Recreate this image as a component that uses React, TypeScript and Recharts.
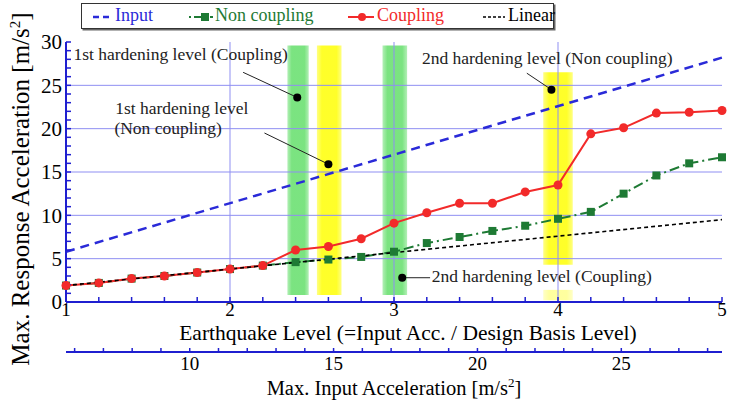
import React from 'react'
import {
  ComposedChart, Line, XAxis, YAxis, ReferenceArea, ReferenceLine, ReferenceDot,
} from 'recharts'

// earthquake level (x) and max response acceleration [m/s2]
const levels = [1, 1.2, 1.4, 1.6, 1.8, 2, 2.2, 2.4, 2.6, 2.8, 3, 3.2, 3.4, 3.6, 3.8, 4, 4.2, 4.4, 4.6, 4.8, 5]
const coupling = [1.9, 2.2, 2.7, 3.0, 3.4, 3.8, 4.2, 6.0, 6.4, 7.3, 9.1, 10.3, 11.4, 11.4, 12.7, 13.5, 19.4, 20.1, 21.8, 21.9, 22.1]
const nonCoupling = [1.9, 2.2, 2.7, 3.0, 3.4, 3.8, 4.2, 4.6, 4.9, 5.2, 5.8, 6.8, 7.5, 8.2, 8.8, 9.6, 10.4, 12.5, 14.6, 16.0, 16.7]
// input line is drawn against the input acceleration axis
const inputAccX = [5.7, 28.5]
const inputAcc = [5.8, 28.2]
const linearLevels = [1, 5]
const linearAcc = [1.9, 9.5]

const levelLabels = [1, 2, 3, 4, 5]
const responseLabels = [0, 5, 10, 15, 20, 25, 30]
const inputAccLabels = [10, 15, 20, 25]
const inputAccRange = [5.7, 28.5]

// hardening bands (green = coupling, yellow = non coupling)
const bandFrom = [2.35, 2.53, 2.93, 3.91]
const bandTo = [2.48, 2.68, 3.08, 4.09]
const bandLow = [0.8, 0.8, 0.8, 4.3]
const bandHigh = [29.6, 29.6, 29.6, 26.5]
const bandKind = ['coupling', 'nonCoupling', 'coupling', 'nonCoupling']

// annotations
const noteText = ['1st hardening level (Coupling)', '1st hardening level', '(Non coupling)', '2nd hardening level (Non coupling)', '2nd hardening level (Coupling)']
const noteX = [1.045, 1.3, 1.295, 3.17, 3.23]
const noteY = [27.9, 21.7, 19.4, 27.45, 2.3]
const pointerFrom = [[2.08, 26.5], [2.21, 19.5], [3.81, 26.4], [3.22, 2.8]]
const pointerTo = [[2.41, 23.6], [2.6, 15.9], [3.96, 24.5], [3.05, 2.8]]

const serif = '"Liberation Serif", "Times New Roman", serif'
const FRAME = '#1f1fd0'
const GRID = '#8f8ff2'
const BLUE = '#2a2ad8'
const GREEN = '#1e7a34'
const RED = '#f22a2a'

const levelTicks = Array.from({ length: 21 }, (_, i) => +(1 + i * 0.2).toFixed(1))
const responseTicks = Array.from({ length: 31 }, (_, i) => i)
const inputAccTicks = Array.from({ length: 23 }, (_, i) => i + 6)

const rows = (xs: number[], ys: number[]) => xs.map((x, i) => ({ x, y: ys[i] }))
const couplingRows = rows(levels, coupling)
const nonCouplingRows = rows(levels, nonCoupling)
const inputRows = rows(inputAccX, inputAcc)
const linearRows = rows(linearLevels, linearAcc)

const SquareDot = (p: any) => (
  <rect key={p.index} x={p.cx - 4} y={p.cy - 4} width={8} height={8} fill={GREEN} />
)
const RoundDot = (p: any) => (
  <circle key={p.index} cx={p.cx} cy={p.cy} r={4.5} fill={RED} />
)

const YTitle = () => (
  <text transform="translate(29,189) rotate(-90)" textAnchor="middle" fontSize={25} fill="#000" fontFamily={serif}>
    Max. Response Acceleration [m/s<tspan dy={-9} fontSize={15}>2</tspan><tspan dy={9}>]</tspan>
  </text>
)

const LevelTitle = ({ viewBox }: any) => (
  <text x={viewBox.x + viewBox.width / 2 + 14} y={viewBox.y + 38} textAnchor="middle" fontSize={21.5} fill="#000" fontFamily={serif}>
    Earthquake Level (=Input Acc. / Design Basis Level)
  </text>
)

const AccTitle = ({ viewBox }: any) => (
  <text x={viewBox.x + viewBox.width / 2} y={viewBox.y + viewBox.height - 3} textAnchor="middle" fontSize={20.5} fill="#000" fontFamily={serif}>
    Max. Input Acceleration [m/s<tspan dy={-8} fontSize={13}>2</tspan><tspan dy={8}>]</tspan>
  </text>
)

const legendItems = [
  { name: 'Input', color: BLUE, left: 11, textLeft: 33, kind: 'input' },
  { name: 'Non coupling', color: GREEN, left: 107, textLeft: 133, kind: 'nonCoupling' },
  { name: 'Coupling', color: RED, left: 266, textLeft: 295, kind: 'coupling' },
  { name: 'Linear', color: '#000', left: 401, textLeft: 426, kind: 'linear' },
]

function LegendMarker({ kind, color }: { kind: string; color: string }) {
  return (
    <svg width={26} height={10} style={{ position: 'absolute', top: 8 }}>
      {kind === 'input' && <line x1={0} y1={5} x2={20} y2={5} stroke={color} strokeWidth={2.5} strokeDasharray="6 4" />}
      {kind === 'nonCoupling' && (
        <>
          <line x1={0} y1={5} x2={24} y2={5} stroke={color} strokeWidth={2} strokeDasharray="2 3 8 3" />
          <rect x={12} y={1} width={8} height={8} fill={color} />
        </>
      )}
      {kind === 'coupling' && (
        <>
          <line x1={0} y1={5} x2={26} y2={5} stroke={color} strokeWidth={2} />
          <circle cx={14} cy={5} r={4} fill={color} />
        </>
      )}
      {kind === 'linear' && <line x1={0} y1={5} x2={22} y2={5} stroke={color} strokeWidth={1.6} strokeDasharray="3 2" />}
    </svg>
  )
}

export default function App() {
  return (
    <div style={{ position: 'absolute', left: 0, top: 0, width: 730, height: 400, background: '#fff' }}>
      <ComposedChart width={730} height={400} margin={{ top: 42, right: 8, bottom: 2, left: 10 }} style={{ fontFamily: serif }}>
        <defs>
          <linearGradient id="bandCoupling" x1="0" y1="0" x2="1" y2="0">
            <stop offset="0" stopColor="#74e27a" stopOpacity={0.55} />
            <stop offset="0.2" stopColor="#74e27a" stopOpacity={0.95} />
            <stop offset="0.8" stopColor="#74e27a" stopOpacity={0.95} />
            <stop offset="1" stopColor="#74e27a" stopOpacity={0.55} />
          </linearGradient>
          <linearGradient id="bandNonCoupling" x1="0" y1="0" x2="1" y2="0">
            <stop offset="0" stopColor="#ffff1e" stopOpacity={0.55} />
            <stop offset="0.2" stopColor="#ffff1e" stopOpacity={0.95} />
            <stop offset="0.8" stopColor="#ffff1e" stopOpacity={0.95} />
            <stop offset="1" stopColor="#ffff1e" stopOpacity={0.55} />
          </linearGradient>
        </defs>
        <XAxis
          type="number" dataKey="x" domain={[1, 5]} ticks={levelTicks} interval={0}
          tickFormatter={(v: number) => (levelLabels.includes(v) ? String(v) : '')}
          height={50} axisLine={{ stroke: FRAME, strokeWidth: 2 }} tickLine={{ stroke: FRAME, strokeWidth: 1.5 }}
          tickSize={-5} tickMargin={6} tick={{ fill: '#000', fontSize: 19 }}
          label={<LevelTitle />}
        />
        <XAxis
          xAxisId="top" orientation="top" type="number" domain={[1, 5]} ticks={levelTicks} interval={0}
          height={0} mirror tickFormatter={() => ''} axisLine={{ stroke: FRAME, strokeWidth: 2 }}
          tickLine={{ stroke: FRAME, strokeWidth: 1.5 }} tickSize={5}
        />
        <XAxis
          xAxisId="acc" type="number" dataKey="x" domain={inputAccRange} ticks={inputAccTicks} interval={0}
          tickFormatter={(v: number) => (inputAccLabels.includes(v) ? String(v) : '')}
          height={46} axisLine={{ stroke: FRAME, strokeWidth: 2 }} tickLine={{ stroke: FRAME, strokeWidth: 1.5 }}
          tickSize={-4} tickMargin={9} tick={{ fill: '#000', fontSize: 19 }}
          label={<AccTitle />}
        />
        <YAxis
          type="number" domain={[0, 30]} ticks={responseTicks} interval={0}
          tickFormatter={(v: number) => (responseLabels.includes(v) ? String(v) : '')}
          width={56} axisLine={{ stroke: FRAME, strokeWidth: 2 }} tickLine={{ stroke: FRAME, strokeWidth: 1.5 }}
          tickSize={-5} tickMargin={9} tick={{ fill: '#000', fontSize: 21 }}
          label={<YTitle />}
        />
        <YAxis
          yAxisId="right" orientation="right" type="number" domain={[0, 30]} ticks={responseTicks} interval={0}
          width={0} mirror tickFormatter={() => ''} axisLine={{ stroke: FRAME, strokeWidth: 2 }}
          tickLine={{ stroke: FRAME, strokeWidth: 1.5 }} tickSize={5}
        />

        {bandFrom.map((x1, i) => (
          <ReferenceArea key={'b' + i} x1={x1} x2={bandTo[i]} y1={bandLow[i]} y2={bandHigh[i]}
            fill={bandKind[i] === 'coupling' ? 'url(#bandCoupling)' : 'url(#bandNonCoupling)'} fillOpacity={1} stroke="none" />
        ))}
        <ReferenceArea x1={3.91} x2={4.09} y1={0.2} y2={1.4} fill="url(#bandNonCoupling)" fillOpacity={0.45} stroke="none" />

        {[5, 10, 15, 20, 25].map((v) => (
          <ReferenceLine key={'h' + v} y={v} stroke={GRID} strokeWidth={1} />
        ))}
        {[2, 3, 4].map((v) => (
          <ReferenceLine key={'v' + v} x={v} stroke={GRID} strokeWidth={1} />
        ))}

        <Line xAxisId="acc" data={inputRows} dataKey="y" stroke={BLUE} strokeWidth={2.5} strokeDasharray="9 6" dot={false} isAnimationActive={false} />
        <Line data={nonCouplingRows} dataKey="y" stroke={GREEN} strokeWidth={2} strokeDasharray="10 4 2 4" dot={SquareDot} isAnimationActive={false} />
        <Line data={couplingRows} dataKey="y" stroke={RED} strokeWidth={2} dot={RoundDot} isAnimationActive={false} />
        <Line data={linearRows} dataKey="y" stroke="#000" strokeWidth={1.6} strokeDasharray="4 3" dot={false} isAnimationActive={false} />

        {pointerFrom.map((p, i) => (
          <ReferenceLine key={'p' + i} segment={[{ x: p[0], y: p[1] }, { x: pointerTo[i][0], y: pointerTo[i][1] }]} stroke="#222" strokeWidth={1} />
        ))}
        {pointerTo.map((p, i) => (
          <ReferenceDot key={'d' + i} x={p[0]} y={p[1]} r={4} fill="#000" stroke="none" />
        ))}
        {noteText.map((t, i) => (
          <ReferenceDot key={'n' + i} x={noteX[i]} y={noteY[i]} r={0}
            shape={(p: any) => (
              <text x={p.cx} y={p.cy} fontSize={17.5} fill="#222" fontFamily={serif}>{t}</text>
            )}
          />
        ))}
      </ComposedChart>

      <div style={{
        position: 'absolute', left: 81, top: 3, width: 471, height: 24, border: '1.5px solid #333',
        boxShadow: '1.5px 1.5px 0 #666', background: '#fff', fontFamily: serif, fontSize: 18,
      }}>
        {legendItems.map((it) => (
          <React.Fragment key={it.name}>
            <div style={{ position: 'absolute', left: it.left, top: 0 }}>
              <LegendMarker kind={it.kind} color={it.color} />
            </div>
            <span style={{ position: 'absolute', left: it.textLeft, top: 1, color: it.color, whiteSpace: 'nowrap' }}>{it.name}</span>
          </React.Fragment>
        ))}
      </div>
    </div>
  )
}
